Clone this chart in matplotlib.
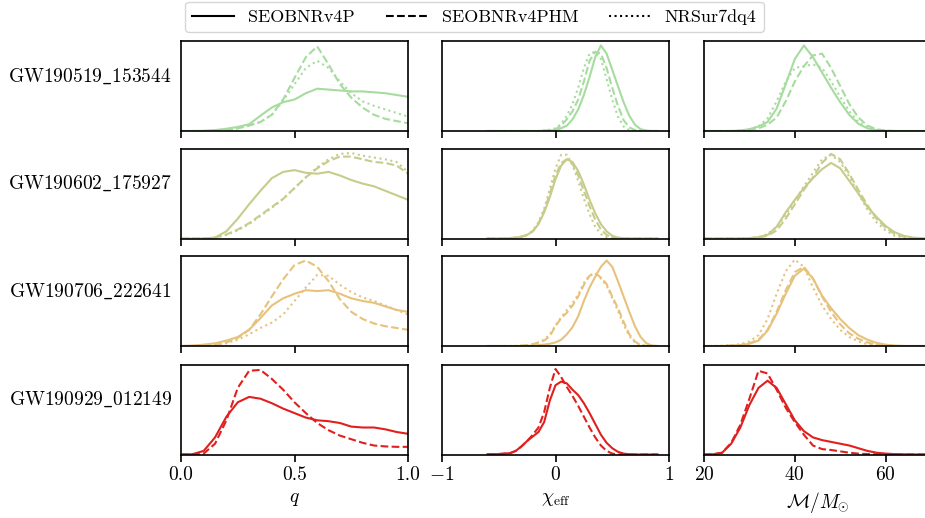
import numpy as np
import matplotlib
matplotlib.use("Agg")
import matplotlib.pyplot as plt
from matplotlib.lines import Line2D

# Events (rows) and their colours
events = ["GW190519_153544", "GW190602_175927", "GW190706_222641", "GW190929_012149"]
colors = ["#a6dc9e", "#c7cc8b", "#e6c27c", "#e0201e"]

# Waveform models (line styles)
models = ["SEOBNRv4P", "SEOBNRv4PHM", "NRSur7dq4"]
styles = ["-", "--", ":"]

# x grids of the three columns
q_grid = [0.00, 0.05, 0.10, 0.15, 0.20, 0.25, 0.30, 0.35, 0.40, 0.45, 0.50,
          0.55, 0.60, 0.65, 0.70, 0.75, 0.80, 0.85, 0.90, 0.95, 1.00]
chi_grid = [-0.60, -0.55, -0.50, -0.45, -0.40, -0.35, -0.30, -0.25, -0.20, -0.15, -0.10,
            -0.05, 0.00, 0.05, 0.10, 0.15, 0.20, 0.25, 0.30, 0.35, 0.40,
            0.45, 0.50, 0.55, 0.60, 0.65, 0.70, 0.75, 0.80, 0.85, 0.90]
mc_grid = [20, 22, 24, 26, 28, 30, 32, 34, 36, 38, 40, 42, 44,
           46, 48, 50, 52, 54, 56, 58, 60, 62, 64, 66, 68, 70]

# ---- mass ratio q (arbitrary density units) ----
q_r1_v4p = [0, 0, 0.002, 0.01, 0.025, 0.045, 0.075, 0.17, 0.26, 0.32, 0.35,
            0.42, 0.47, 0.46, 0.45, 0.44, 0.44, 0.43, 0.42, 0.40, 0.38]
q_r1_phm = [0, 0, 0, 0.003, 0.01, 0.03, 0.06, 0.10, 0.18, 0.35, 0.59,
            0.82, 0.94, 0.74, 0.52, 0.37, 0.26, 0.18, 0.135, 0.11, 0.086]
q_r1_nrs = [0, 0, 0, 0.003, 0.01, 0.03, 0.06, 0.10, 0.18, 0.34, 0.52,
            0.70, 0.78, 0.70, 0.55, 0.42, 0.33, 0.28, 0.24, 0.20, 0.16]

q_r2_v4p = [0, 0, 0, 0.01, 0.08, 0.22, 0.38, 0.53, 0.67, 0.74, 0.76,
            0.73, 0.72, 0.74, 0.70, 0.65, 0.61, 0.58, 0.53, 0.48, 0.43]
q_r2_phm = [0, 0, 0, 0.01, 0.045, 0.10, 0.17, 0.26, 0.35, 0.44, 0.56,
            0.68, 0.78, 0.86, 0.91, 0.91, 0.88, 0.85, 0.84, 0.81, 0.72]
q_r2_nrs = [0, 0, 0, 0.01, 0.04, 0.09, 0.16, 0.25, 0.34, 0.44, 0.56,
            0.68, 0.79, 0.88, 0.94, 0.95, 0.92, 0.90, 0.88, 0.85, 0.74]

q_r3_v4p = [0, 0.005, 0.015, 0.03, 0.06, 0.10, 0.18, 0.31, 0.45, 0.53, 0.58,
            0.62, 0.61, 0.62, 0.58, 0.53, 0.50, 0.48, 0.44, 0.40, 0.38]
q_r3_phm = [0, 0, 0, 0.01, 0.04, 0.09, 0.18, 0.35, 0.55, 0.74, 0.90,
            0.95, 0.88, 0.72, 0.52, 0.38, 0.30, 0.25, 0.22, 0.20, 0.18]
q_r3_nrs = [0, 0, 0, 0.01, 0.03, 0.07, 0.13, 0.20, 0.26, 0.35, 0.50,
            0.65, 0.79, 0.78, 0.68, 0.60, 0.54, 0.50, 0.45, 0.40, 0.35]

q_r4_v4p = [0, 0.003, 0.04, 0.19, 0.42, 0.58, 0.64, 0.62, 0.57, 0.51, 0.46,
            0.41, 0.38, 0.37, 0.35, 0.31, 0.30, 0.30, 0.28, 0.25, 0.23]
q_r4_phm = [0, 0, 0.01, 0.12, 0.38, 0.74, 0.93, 0.94, 0.84, 0.72, 0.58,
            0.46, 0.35, 0.27, 0.21, 0.17, 0.13, 0.10, 0.09, 0.085, 0.085]

# ---- effective spin chi_eff ----
chi_r1_v4p = [0, 0, 0, 0, 0, 0, 0, 0, 0, 0, 0.003,
              0.005, 0.01, 0.03, 0.06, 0.13, 0.24, 0.40, 0.60, 0.82, 0.95,
              0.86, 0.68, 0.50, 0.32, 0.17, 0.07, 0.02, 0.005, 0, 0]
chi_r1_phm = [0, 0, 0, 0, 0, 0, 0, 0, 0, 0, 0.003,
              0.01, 0.02, 0.06, 0.13, 0.22, 0.35, 0.55, 0.78, 0.88, 0.86,
              0.70, 0.48, 0.28, 0.12, 0.04, 0.01, 0, 0, 0, 0]
chi_r1_nrs = [0, 0, 0, 0, 0, 0, 0, 0, 0, 0, 0.005,
              0.015, 0.03, 0.08, 0.17, 0.30, 0.48, 0.70, 0.86, 0.88, 0.80,
              0.58, 0.35, 0.16, 0.05, 0.01, 0, 0, 0, 0, 0]

chi_r2_v4p = [0, 0, 0, 0.002, 0.005, 0.01, 0.02, 0.04, 0.08, 0.16, 0.29,
              0.46, 0.66, 0.81, 0.88, 0.85, 0.75, 0.60, 0.43, 0.28, 0.16,
              0.08, 0.03, 0.01, 0.003, 0, 0, 0, 0, 0, 0]
chi_r2_phm = [0, 0, 0, 0, 0.003, 0.01, 0.02, 0.04, 0.08, 0.17, 0.31,
              0.50, 0.70, 0.84, 0.88, 0.83, 0.70, 0.53, 0.36, 0.21, 0.10,
              0.04, 0.01, 0, 0, 0, 0, 0, 0, 0, 0]
chi_r2_nrs = [0, 0, 0, 0, 0.003, 0.01, 0.02, 0.04, 0.09, 0.18, 0.33,
              0.55, 0.78, 0.93, 0.93, 0.82, 0.64, 0.44, 0.27, 0.13, 0.05,
              0.015, 0.003, 0, 0, 0, 0, 0, 0, 0, 0]

chi_r3_v4p = [0, 0, 0, 0, 0, 0, 0, 0.002, 0.005, 0.01, 0.015,
              0.025, 0.04, 0.07, 0.13, 0.21, 0.33, 0.50, 0.65, 0.77, 0.88,
              0.95, 0.88, 0.72, 0.55, 0.38, 0.22, 0.10, 0.03, 0.005, 0]
chi_r3_phm = [0, 0, 0, 0, 0, 0, 0.005, 0.01, 0.02, 0.04, 0.06,
              0.11, 0.22, 0.31, 0.37, 0.45, 0.55, 0.68, 0.78, 0.81, 0.76,
              0.69, 0.55, 0.42, 0.27, 0.13, 0.05, 0.01, 0, 0, 0]
chi_r3_nrs = [0, 0, 0, 0, 0, 0, 0.005, 0.01, 0.02, 0.04, 0.07,
              0.13, 0.23, 0.32, 0.40, 0.48, 0.57, 0.70, 0.79, 0.80, 0.75,
              0.67, 0.53, 0.39, 0.24, 0.11, 0.04, 0.01, 0, 0, 0]

chi_r4_v4p = [0.002, 0.003, 0.005, 0.01, 0.015, 0.04, 0.09, 0.15, 0.20, 0.25, 0.36,
              0.60, 0.77, 0.81, 0.79, 0.72, 0.66, 0.57, 0.46, 0.34, 0.22,
              0.13, 0.07, 0.03, 0.01, 0.003, 0, 0, 0, 0, 0]
chi_r4_phm = [0.002, 0.003, 0.005, 0.01, 0.015, 0.04, 0.09, 0.15, 0.22, 0.30, 0.47,
              0.74, 0.95, 0.86, 0.75, 0.65, 0.54, 0.42, 0.30, 0.19, 0.10,
              0.04, 0.01, 0, 0, 0, 0, 0, 0, 0, 0]

# ---- chirp mass ----
mc_r1_v4p = [0, 0, 0, 0, 0.005, 0.02, 0.05, 0.10, 0.25, 0.52, 0.80, 0.95, 0.82,
             0.65, 0.48, 0.32, 0.18, 0.08, 0.03, 0.01, 0.003, 0, 0, 0, 0, 0]
mc_r1_phm = [0, 0, 0, 0, 0.003, 0.01, 0.03, 0.07, 0.15, 0.33, 0.55, 0.72, 0.84,
             0.86, 0.70, 0.50, 0.30, 0.15, 0.06, 0.02, 0.005, 0, 0, 0, 0, 0]
mc_r1_nrs = [0, 0, 0, 0, 0.005, 0.02, 0.05, 0.14, 0.33, 0.55, 0.70, 0.72, 0.74,
             0.70, 0.55, 0.38, 0.22, 0.10, 0.04, 0.01, 0, 0, 0, 0, 0, 0]

mc_r2_v4p = [0, 0, 0, 0, 0, 0.005, 0.015, 0.04, 0.13, 0.29, 0.43, 0.56, 0.67,
             0.77, 0.84, 0.78, 0.64, 0.50, 0.35, 0.24, 0.14, 0.07, 0.03, 0.01, 0.003, 0]
mc_r2_phm = [0, 0, 0, 0, 0, 0.003, 0.01, 0.03, 0.09, 0.22, 0.38, 0.54, 0.68,
             0.84, 0.94, 0.88, 0.72, 0.54, 0.37, 0.22, 0.12, 0.05, 0.02, 0.005, 0, 0]
mc_r2_nrs = [0, 0, 0, 0, 0, 0.005, 0.015, 0.05, 0.13, 0.26, 0.42, 0.58, 0.73,
             0.88, 0.93, 0.85, 0.69, 0.50, 0.32, 0.18, 0.09, 0.03, 0.01, 0, 0, 0]

mc_r3_v4p = [0, 0, 0, 0.005, 0.01, 0.025, 0.06, 0.17, 0.36, 0.58, 0.78, 0.86, 0.75,
             0.56, 0.42, 0.30, 0.20, 0.12, 0.07, 0.035, 0.015, 0.005, 0, 0, 0, 0]
mc_r3_phm = [0, 0, 0, 0.005, 0.01, 0.03, 0.07, 0.18, 0.38, 0.62, 0.82, 0.88, 0.75,
             0.55, 0.38, 0.24, 0.14, 0.08, 0.04, 0.015, 0.005, 0, 0, 0, 0, 0]
mc_r3_nrs = [0, 0, 0.003, 0.01, 0.02, 0.05, 0.12, 0.30, 0.58, 0.83, 0.96, 0.88, 0.65,
             0.45, 0.30, 0.18, 0.10, 0.05, 0.02, 0.005, 0, 0, 0, 0, 0, 0]

mc_r4_v4p = [0, 0.002, 0.02, 0.12, 0.30, 0.55, 0.74, 0.82, 0.74, 0.56, 0.38, 0.26, 0.19,
             0.16, 0.14, 0.12, 0.10, 0.07, 0.04, 0.02, 0.01, 0.004, 0.002, 0.001, 0, 0]
mc_r4_phm = [0, 0.002, 0.02, 0.13, 0.33, 0.62, 0.93, 0.90, 0.72, 0.52, 0.36, 0.22, 0.10,
             0.06, 0.05, 0.035, 0.02, 0.01, 0.005, 0.002, 0, 0, 0, 0, 0, 0]

# group per panel: [row][col] -> list of curves (one per model)
curves = [
    [[q_r1_v4p, q_r1_phm, q_r1_nrs], [chi_r1_v4p, chi_r1_phm, chi_r1_nrs], [mc_r1_v4p, mc_r1_phm, mc_r1_nrs]],
    [[q_r2_v4p, q_r2_phm, q_r2_nrs], [chi_r2_v4p, chi_r2_phm, chi_r2_nrs], [mc_r2_v4p, mc_r2_phm, mc_r2_nrs]],
    [[q_r3_v4p, q_r3_phm, q_r3_nrs], [chi_r3_v4p, chi_r3_phm, chi_r3_nrs], [mc_r3_v4p, mc_r3_phm, mc_r3_nrs]],
    [[q_r4_v4p, q_r4_phm], [chi_r4_v4p, chi_r4_phm], [mc_r4_v4p, mc_r4_phm]],
]
grids = [q_grid, chi_grid, mc_grid]
xlims = [(0, 1), (-1, 1), (20, 70)]
xticks = [[0.0, 0.5, 1.0], [-1, 0, 1], [20, 40, 60]]
xlabels = [r"$q$", r"$\chi_{\rm eff}$", r"$\mathcal{M}/M_{\odot}$"]

# LaTeX-like look
plt.rcParams["mathtext.fontset"] = "cm"
plt.rcParams["font.family"] = "serif"
plt.rcParams["font.serif"] = ["cmr10"]
plt.rcParams["axes.formatter.use_mathtext"] = True

W, H = 925, 518
fig = plt.figure(figsize=(W / 100, H / 100), dpi=100)

col_left = [181, 442, 704]
ax_w = 227
row_top = [41, 148.5, 256, 364.5]
ax_h = 90

for i in range(4):
    for j in range(3):
        ax = fig.add_axes([col_left[j] / W, 1 - (row_top[i] + ax_h) / H, ax_w / W, ax_h / H])
        for k, y in enumerate(curves[i][j]):
            ax.plot(grids[j], y, color=colors[i], ls=styles[k], lw=1.5)
        ax.set_xlim(*xlims[j])
        ax.set_ylim(0, 1.0)
        ax.set_yticks([])
        ax.set_xticks(xticks[j])
        if j == 0:
            ax.set_xticklabels(["0.0", "0.5", "1.0"])
        for s in ax.spines.values():
            s.set_linewidth(1.2)
        ax.tick_params(axis="x", direction="out", length=5, width=1.2, labelsize=14)
        if i < 3:
            ax.tick_params(labelbottom=False)
        else:
            ax.set_xlabel(xlabels[j], fontsize=14)
        if j == 0:
            name = events[i].replace("_", r"\_")
            ax.text(-0.04, 0.61, r"$\mathrm{" + name + "}$", transform=ax.transAxes,
                    ha="right", va="center", fontsize=14)

# Legend
handles = [Line2D([0], [0], color="black", ls=s, lw=1.5) for s in styles]
fig.legend(handles, models, loc="upper center", bbox_to_anchor=(474.5 / W, 1.0),
           ncol=3, fontsize=13, columnspacing=1.7, handlelength=2.3,
           borderaxespad=0.1)

fig.savefig("out.png", dpi=100)
